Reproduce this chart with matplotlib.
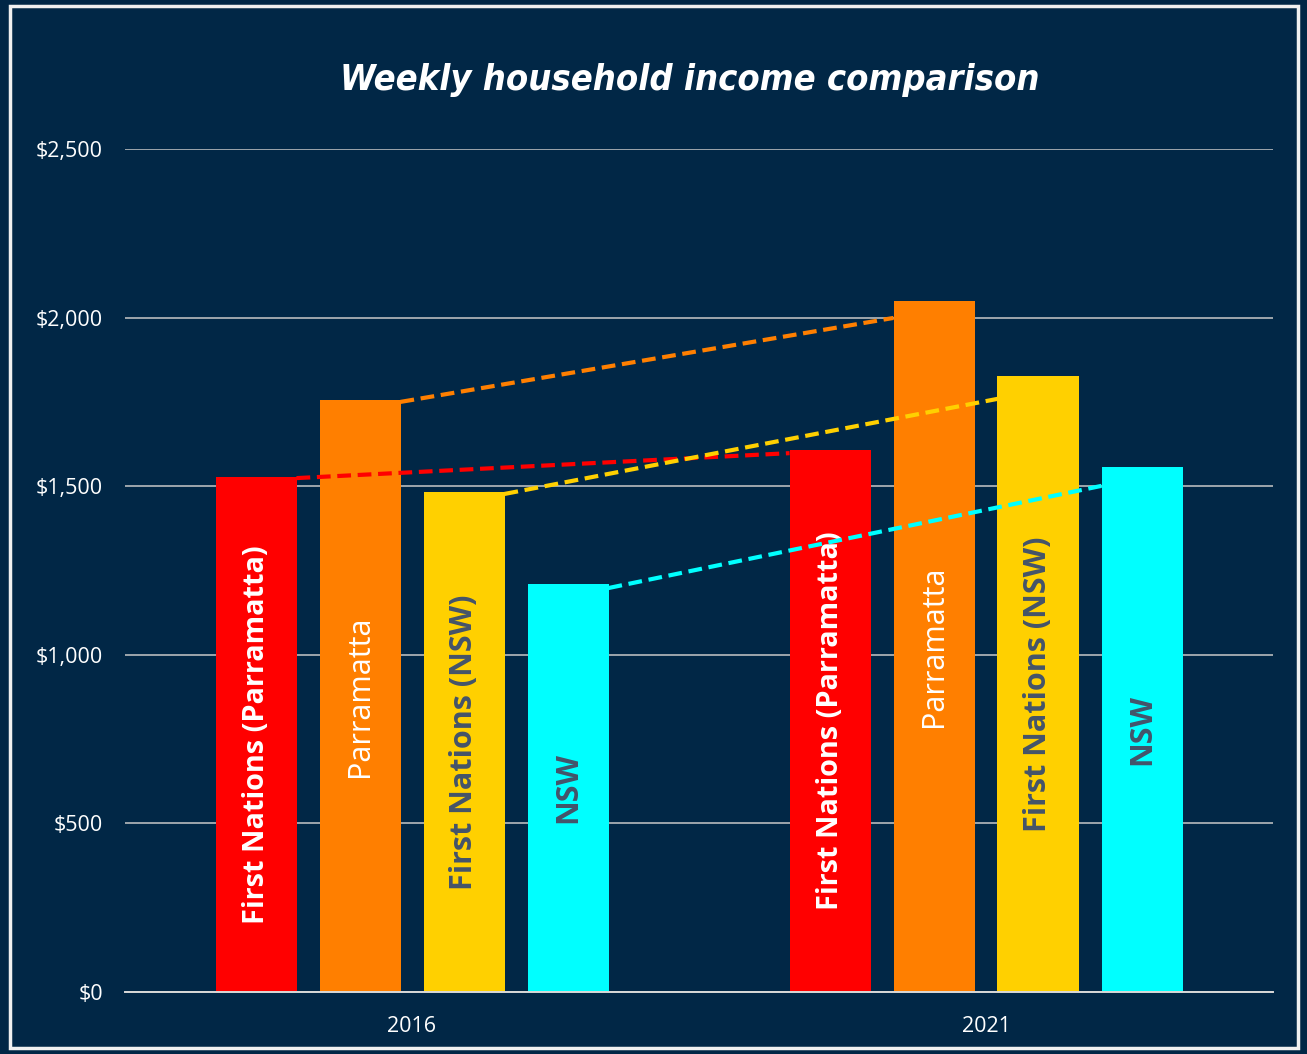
import matplotlib
matplotlib.use("Agg")
import matplotlib.pyplot as plt
from matplotlib import font_manager
from matplotlib.patches import Rectangle
from matplotlib.ticker import FuncFormatter
import numpy as np

# ---- data ----
years = ["2016", "2021"]
series_names = ["First Nations (Parramatta)", "Parramatta", "First Nations (NSW)", "NSW"]
fn_parramatta = [1527, 1607]
parramatta = [1756, 2049]
fn_nsw = [1483, 1827]
nsw = [1210, 1557]
# dashed connector annotations (start value at 2016, end value at 2021)
connector_start = [1524, 1750, 1477, 1198]
connector_end = [1598, 1999, 1759, 1501]
y_ticks = [0, 500, 1000, 1500, 2000, 2500]

colors = ["#FF0000", "#FF7F00", "#FFD000", "#00FFFF"]
label_colors = ["white", "white", "#44546A", "#44546A"]
label_weights = ["bold", "normal", "bold", "bold"]
label_sizes = [20.8, 22, 22, 22]
bg = "#012746"

fonts = font_manager.fontManager.ttflist
available = {f.name for f in fonts}
title_kw = dict(fontweight="bold", fontstyle="italic")
if any(f.name == "DejaVu Sans" and f.stretch == "condensed" for f in fonts):
    title_kw.update(family="DejaVu Sans", fontstretch="condensed", fontsize=26)
elif "Liberation Sans Narrow" in available:
    title_kw.update(family="Liberation Sans Narrow", fontsize=36)
else:
    title_kw.update(family="Roboto", fontsize=30)
body_font = "Open Sans" if "Open Sans" in available else "DejaVu Sans"

fig = plt.figure(figsize=(13.07, 10.54), dpi=100, facecolor=bg)
W, H = 1307, 1054
ax = fig.add_axes([125 / W, 1 - 992 / H, (1273 - 125) / W, (992 - 149) / H])
ax.set_facecolor(bg)

values = [fn_parramatta, parramatta, fn_nsw, nsw]
x = np.arange(len(years))
step = 104 / 574
width = 81 / 574
for i, (vals, c) in enumerate(zip(values, colors)):
    xs = x + (i - 1.5) * step
    ax.bar(xs, vals, width=width, color=c, zorder=2)
    for xi, v in zip(xs, vals):
        ax.text(xi, v / 2, series_names[i], rotation=90, ha="center", va="center",
                color=label_colors[i], fontsize=label_sizes[i], fontweight=label_weights[i],
                family=body_font, zorder=3)

# dashed connectors: from right edge of 2016 bar to left edge of 2021 bar
for i in range(4):
    x0 = x[0] + (i - 1.5) * step + width / 2
    x1 = x[1] + (i - 1.5) * step - width / 2
    ax.plot([x0, x1], [connector_start[i], connector_end[i]], color=colors[i],
            lw=3.0, linestyle=(0, (3.3, 1.6)), zorder=4, dash_capstyle="butt")

ax.set_xlim(-0.5, 1.5)
ax.set_ylim(0, 2500)
ax.set_yticks(y_ticks)
ax.yaxis.set_major_formatter(FuncFormatter(lambda v, p: "${:,.0f}".format(v)))
ax.set_xticks(x)
ax.set_xticklabels(years)
ax.grid(axis="y", color="#C8C8C8", lw=1.1, zorder=1)
ax.set_axisbelow(True)
for s in ["left", "right", "top"]:
    ax.spines[s].set_visible(False)
ax.spines["bottom"].set_color("#D9D9D9")
ax.spines["bottom"].set_linewidth(1.4)
ax.tick_params(axis="both", length=0, colors="white", labelsize=15.5)
ax.tick_params(axis="y", pad=16)
ax.tick_params(axis="x", pad=17)
for lab in ax.get_xticklabels() + ax.get_yticklabels():
    lab.set_family(body_font)

fig.text(690 / W, 1 - 80 / H, "Weekly household income comparison", ha="center", va="center",
         color="white", **title_kw)

# white frame
fig.patches.append(Rectangle((10 / W, 1 - 1048 / H), (1298 - 10) / W, (1048 - 6) / H,
                             transform=fig.transFigure, fill=False, edgecolor="#F0F0F0",
                             lw=2.5, zorder=10))

fig.savefig("out.png", dpi=100, facecolor=bg)
